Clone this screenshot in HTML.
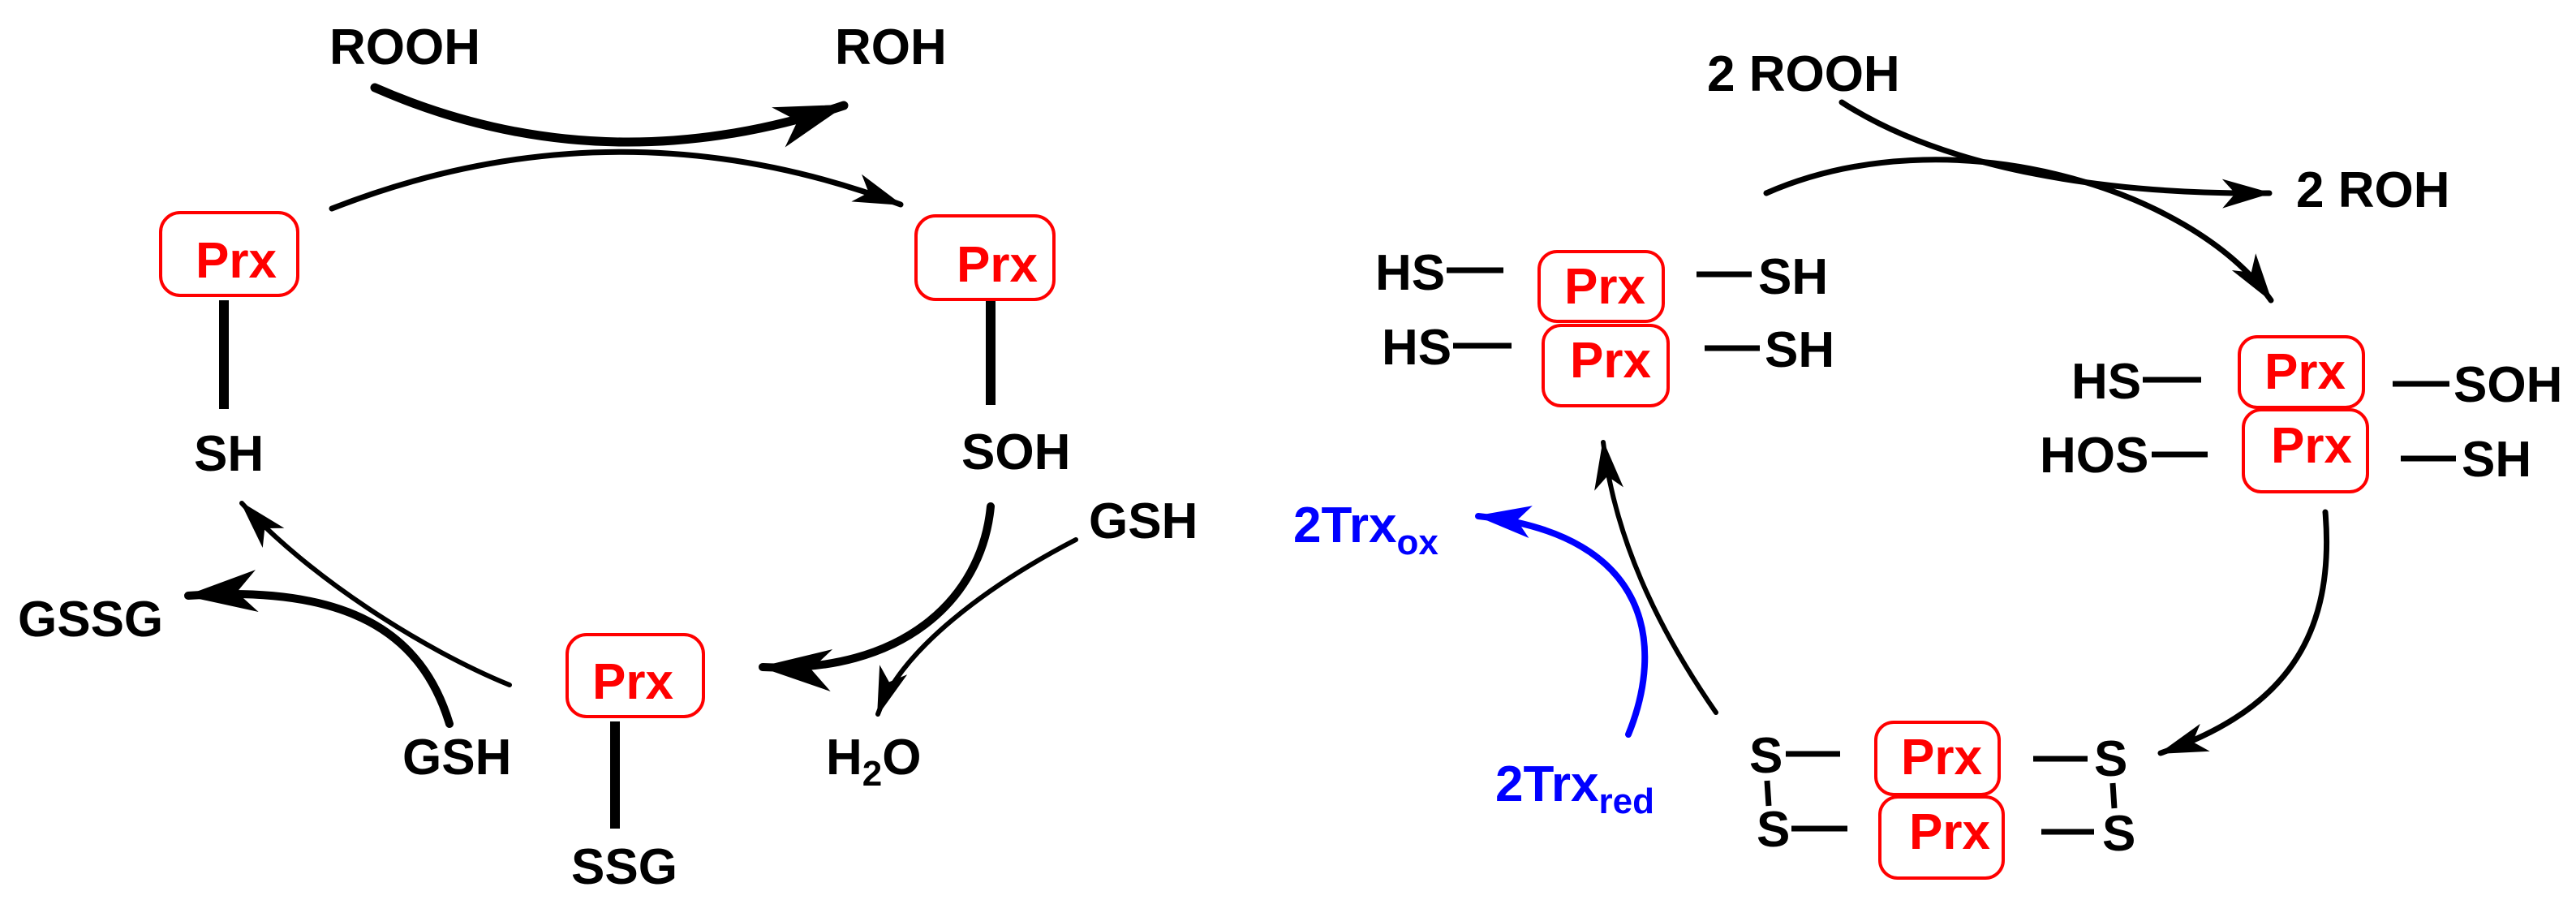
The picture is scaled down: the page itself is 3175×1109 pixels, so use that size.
<!DOCTYPE html>
<html><head><meta charset="utf-8"><style>
html,body{margin:0;padding:0;background:#fff;}
svg{display:block;}
text{font-family:"Liberation Sans",sans-serif;font-weight:bold;}
</style></head><body>
<svg width="3175" height="1109" viewBox="0 0 3175 1109" xmlns="http://www.w3.org/2000/svg">
<defs>
<marker id="hb" markerUnits="userSpaceOnUse" viewBox="-90 -28 94 56" markerWidth="94" markerHeight="56" refX="0" refY="0" orient="auto">
<path d="M4,0 L-85,-26 L-60,0 L-85,26 Z" fill="#000"/></marker>
<marker id="hs" markerUnits="userSpaceOnUse" viewBox="-62 -20 66 40" markerWidth="66" markerHeight="40" refX="0" refY="0" orient="auto">
<path d="M3,0 L-58,-18 L-42,0 L-58,18 Z" fill="#000"/></marker>
<marker id="hbl" markerUnits="userSpaceOnUse" viewBox="-72 -22 76 44" markerWidth="76" markerHeight="44" refX="0" refY="0" orient="auto">
<path d="M3,0 L-65,-20 L-48,0 L-65,20 Z" fill="#0000ff"/></marker>
</defs>
<g fill="none" stroke="#000" stroke-linecap="round">
<path d="M462,108 Q740,230 1040,130" stroke-width="11" marker-end="url(#hb)"/>
<path d="M409,257 Q759,120 1110,252" stroke-width="7" marker-end="url(#hs)"/>
<path d="M1221,624 C1210,740 1110,830 940,822" stroke-width="10" marker-end="url(#hb)"/>
<path d="M1326,665 C1220,720 1110,800 1082,880" stroke-width="6" marker-end="url(#hs)"/>
<path d="M628,844 C520,800 380,710 298,620" stroke-width="6" marker-end="url(#hs)"/>
<path d="M554,892 C520,780 430,720 232,734" stroke-width="10" marker-end="url(#hb)"/>
<path d="M2270,126 C2400,210 2600,240 2797,238" stroke-width="7" marker-end="url(#hs)"/>
<path d="M2177,238 C2400,140 2700,230 2799,370" stroke-width="7" marker-end="url(#hs)"/>
<path d="M2866,631 C2880,800 2800,880 2663,928" stroke-width="7" marker-end="url(#hs)"/>
<path d="M2115,878 C2040,770 1990,660 1976,545" stroke-width="6" marker-end="url(#hs)"/>
<path d="M2007,905 C2050,800 2040,660 1822,636" stroke="#0000ff" stroke-width="8" marker-end="url(#hbl)"/>
<line x1="276" y1="370" x2="276" y2="504" stroke-width="12" stroke-linecap="butt"/>
<line x1="1221" y1="367" x2="1221" y2="499" stroke-width="12" stroke-linecap="butt"/>
<line x1="758" y1="889" x2="758" y2="1021" stroke-width="12" stroke-linecap="butt"/>
<g stroke-width="7" stroke-linecap="butt">
<line x1="1783" y1="333" x2="1853" y2="333"/>
<line x1="2091" y1="338" x2="2159" y2="338"/>
<line x1="1791" y1="426" x2="1863" y2="426"/>
<line x1="2101" y1="429" x2="2169" y2="429"/>
<line x1="2641" y1="468" x2="2713" y2="468"/>
<line x1="2949" y1="473" x2="3019" y2="473"/>
<line x1="2652" y1="560" x2="2721" y2="560"/>
<line x1="2959" y1="565" x2="3027" y2="565"/>
<line x1="2201" y1="929" x2="2268" y2="929"/>
<line x1="2208" y1="1021" x2="2277" y2="1021"/>
<line x1="2506" y1="935" x2="2573" y2="935"/>
<line x1="2516" y1="1025" x2="2581" y2="1025"/>
<line x1="2178" y1="962" x2="2180" y2="993"/>
<line x1="2604" y1="965" x2="2606" y2="996"/>
</g>
</g>
<g fill="none" stroke="#ff0000" stroke-width="4">
<rect x="198" y="262" width="169" height="102" rx="24"/>
<rect x="1129" y="266" width="170" height="103" rx="24"/>
<rect x="699" y="782" width="168" height="101" rx="24"/>
<rect x="1897" y="310" width="153" height="86" rx="22"/>
<rect x="1902" y="401" width="154" height="99" rx="22"/>
<rect x="2760" y="415" width="153" height="87" rx="22"/>
<rect x="2765" y="505" width="153" height="101" rx="22"/>
<rect x="2312" y="890" width="152" height="89" rx="22"/>
<rect x="2317" y="982" width="152" height="100" rx="22"/>
</g>
<g fill="#ff0000" font-size="62">
<text x="241" y="342">Prx</text>
<text x="1179" y="347">Prx</text>
<text x="730" y="861">Prx</text>
<text x="1928" y="374">Prx</text>
<text x="1935" y="465">Prx</text>
<text x="2791" y="479">Prx</text>
<text x="2799" y="570">Prx</text>
<text x="2343" y="954">Prx</text>
<text x="2353" y="1046">Prx</text>
</g>
<g fill="#000" font-size="62">
<text x="406" y="79">ROOH</text>
<text x="1029" y="79">ROH</text>
<text x="239" y="580">SH</text>
<text x="1185" y="578">SOH</text>
<text x="1342" y="663">GSH</text>
<text x="1018" y="954">H<tspan font-size="44" dy="14">2</tspan><tspan dy="-14">O</tspan></text>
<text x="704" y="1089">SSG</text>
<text x="496" y="954">GSH</text>
<text x="22" y="784">GSSG</text>
<text x="2104" y="112">2 ROOH</text>
<text x="2830" y="255">2 ROH</text>
<text x="1695" y="357">HS</text>
<text x="2167" y="362">SH</text>
<text x="1703" y="449">HS</text>
<text x="2175" y="452">SH</text>
<text x="2553" y="491">HS</text>
<text x="3024" y="495">SOH</text>
<text x="2514" y="582">HOS</text>
<text x="3034" y="587">SH</text>
<text x="2156" y="952">S</text>
<text x="2165" y="1043">S</text>
<text x="2581" y="956">S</text>
<text x="2591" y="1048">S</text>
</g>
<g fill="#0000ff" font-size="62">
<text x="1594" y="668">2Trx<tspan font-size="44" dy="15">ox</tspan></text>
<text x="1843" y="987">2Trx<tspan font-size="44" dy="15">red</tspan></text>
</g>
</svg>
</body></html>
